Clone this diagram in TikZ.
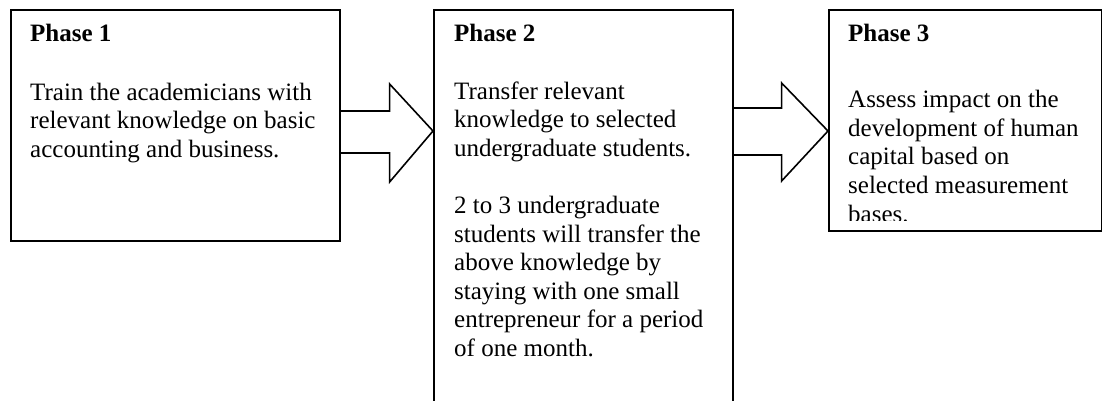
\documentclass[tikz,border=0pt]{standalone}
\usepackage{fontspec}
\setmainfont{Liberation Serif}
\usetikzlibrary{calc}
\begin{document}
\begin{tikzpicture}[x=1pt,y=-1pt,
  phasebox/.style={draw, line width=1.6pt, rectangle, inner sep=0pt, anchor=north west},
  blockarrow/.style={draw, line width=1.6pt, line join=miter},
  % multi-line text nodes: the base anchor sits on the last line
  phasetext/.style={anchor=base west, inner sep=0pt, align=left,
    font=\fontsize{25}{28.6}\selectfont},
  phasetitle/.style={anchor=base west, inner sep=0pt,
    font=\fontsize{25}{28.6}\selectfont\bfseries}]
\useasboundingbox (0,0) rectangle (1102,401);
\clip (0,0) rectangle (1102,401);

% the three phase boxes (the second runs off the bottom edge)
\node[phasebox, minimum width=329pt, minimum height=231pt] (b1) at (10,9) {};
\node[phasebox, minimum width=299pt, minimum height=420pt] (b2) at (433,9) {};
\node[phasebox, minimum width=273pt, minimum height=221pt] (b3) at (828,9) {};

% block arrows between the boxes
\draw[blockarrow] ($(b1.north east)+(0,102)$) -- ++(49,0) -- ++(0,-27)
  -- ($(b2.north west)+(0,122)$) -- ($(b1.north east)+(49,173)$) -- ++(0,-29)
  -- ($(b1.north east)+(0,144)$);
\draw[blockarrow] ($(b2.north east)+(0,99)$) -- ++(48,0) -- ++(0,-25)
  -- ($(b3.north west)+(0,122)$) -- ($(b2.north east)+(48,172)$) -- ++(0,-26)
  -- ($(b2.north east)+(0,146)$);

% phase 1
\node[phasetitle] (t1) at (30,42) {Phase 1};
\node[phasetext] (p1) at (30,157.2) {Train the academicians with\\relevant knowledge on basic\\accounting and business.};

% phase 2
\node[phasetitle] (t2) at (454,42) {Phase 2};
\node[phasetext] (p2a) at (454,156.5) {Transfer relevant\\knowledge to selected\\undergraduate students.};
\node[phasetext] (p2b) at (454,356.5) {2 to 3 undergraduate\\students will transfer the\\above knowledge by\\staying with one small\\entrepreneur for a period\\of one month.};

% phase 3, its last line cut short above the box frame
\node[phasetitle] (t3) at (848,42) {Phase 3};
\begin{scope}
  \clip (b3.north west) rectangle ($(b3.south east)+(0,-11)$);
  \node[phasetext] (p3) at (848,222) {Assess impact on the\\development of human\\capital based on\\selected measurement\\bases.};
\end{scope}
\end{tikzpicture}
\end{document}
